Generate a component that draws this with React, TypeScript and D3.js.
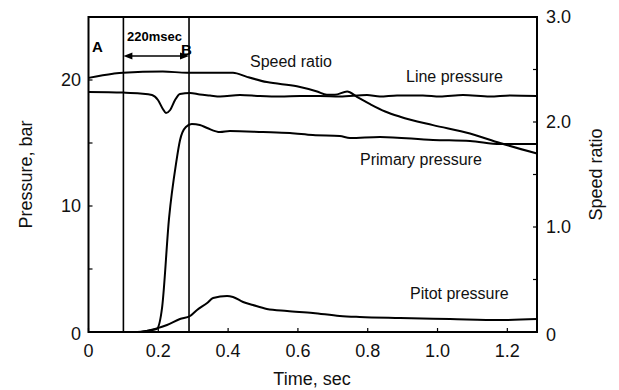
import React from "react";
import * as d3 from "d3";

// ---- data (time in sec) ----
const speedT = [0, 0.07, 0.099, 0.213, 0.282, 0.414, 0.454, 0.511, 0.597, 0.655, 0.683, 0.706, 0.741, 0.769, 0.807, 0.85, 0.893, 0.987, 1.093, 1.179, 1.285];
const speedV = [2.42, 2.46, 2.47, 2.48, 2.47, 2.47, 2.43, 2.38, 2.34, 2.29, 2.26, 2.26, 2.29, 2.24, 2.17, 2.1, 2.05, 1.97, 1.89, 1.8, 1.7];

const lineT = [0, 0.099, 0.148, 0.182, 0.199, 0.213, 0.222, 0.234, 0.248, 0.262, 0.291, 0.319, 0.348, 0.377, 0.434, 0.491, 0.549, 0.606, 0.663, 0.72, 0.798, 0.835, 0.884, 0.958, 1.007, 1.073, 1.15, 1.208, 1.285];
const lineV = [19.05, 19.0, 18.93, 18.81, 18.41, 17.7, 17.38, 17.62, 18.41, 18.89, 18.97, 18.85, 18.77, 18.69, 18.81, 18.73, 18.69, 18.73, 18.73, 18.69, 18.81, 18.69, 18.77, 18.77, 18.69, 18.81, 18.69, 18.77, 18.73];

const primT = [0, 0.14, 0.17, 0.19, 0.196, 0.211, 0.231, 0.251, 0.262, 0.279, 0.296, 0.319, 0.34, 0.377, 0.405, 0.5, 0.577, 0.643, 0.72, 0.749, 0.835, 0.987, 1.093, 1.179, 1.285];
const primV = [0, 0, 0.1, 0.2, 0.25, 1.98, 9.1, 13.4, 15.2, 16.27, 16.5, 16.43, 16.19, 15.87, 15.95, 15.87, 15.79, 15.63, 15.56, 15.4, 15.48, 15.24, 15.16, 14.92, 14.92];

const pitotT = [0, 0.139, 0.196, 0.225, 0.262, 0.291, 0.311, 0.34, 0.357, 0.397, 0.414, 0.443, 0.471, 0.511, 0.569, 0.643, 0.72, 0.777, 0.893, 1.036, 1.179, 1.285];
const pitotV = [0, 0, 0.29, 0.56, 1.03, 1.27, 1.75, 2.3, 2.7, 2.86, 2.78, 2.38, 2.14, 1.83, 1.67, 1.51, 1.27, 1.19, 1.11, 1.03, 0.95, 1.03];

const xTicks = [0, 0.2, 0.4, 0.6, 0.8, 1.0, 1.2];
const xTickLabels = ["0", "0.2", "0.4", "0.6", "0.8", "1.0", "1.2"];
const leftTicks = [0, 5, 10, 15, 20];
const leftLabels = ["0", "", "10", "", "20"];
const rightTicks = [0, 0.5, 1, 1.5, 2, 2.5, 3];
const rightLabels = ["0", "", "1.0", "", "2.0", "", "3.0"];

const markerA = 0.1;
const markerB = 0.288;

const W = 619, H = 390;
const L = 88.5, R = 537, T = 17, B = 332;
const FONT = "'Liberation Sans', Arial, sans-serif";

export default function App() {
  const x = d3.scaleLinear().domain([0, 1.285]).range([L, R]);
  const yL = d3.scaleLinear().domain([0, 25]).range([B, T]);
  const yR = d3.scaleLinear().domain([0, 3]).range([B, T]);

  const mk = (ts: number[], vs: number[], y: d3.ScaleLinear<number, number>) =>
    d3.line<number>().x((_, i) => x(ts[i])).y((v) => y(v)).curve(d3.curveMonotoneX)(vs) || "";

  const xA = x(markerA), xB = x(markerB);
  const arrowY = 56;

  return (
    <svg width={W} height={H} style={{ position: "absolute", left: 0, top: 0, background: "#fff" }} fontFamily={FONT}>
      <rect x={0} y={0} width={W} height={H} fill="#fff" />
      {/* frame */}
      <rect x={L} y={T} width={R - L} height={B - T} fill="none" stroke="#000" strokeWidth={2} />
      {/* ticks */}
      {xTicks.map((t, i) => (
        <g key={"xt" + i}>
          <line x1={x(t)} x2={x(t)} y1={B} y2={B - 4} stroke="#000" strokeWidth={1.2} />
          <text x={x(t)} y={357} fontSize={18} textAnchor="middle" fill="#111">{xTickLabels[i]}</text>
        </g>
      ))}
      {leftTicks.map((t, i) => (
        <g key={"lt" + i}>
          <line x1={L} x2={L + 4} y1={yL(t)} y2={yL(t)} stroke="#000" strokeWidth={1.2} />
          {leftLabels[i] && (
            <text x={81} y={yL(t) + (t === 0 ? 2 : 0)} fontSize={18} textAnchor="end" dominantBaseline="central" fill="#111">{leftLabels[i]}</text>
          )}
        </g>
      ))}
      {rightTicks.map((t, i) => (
        <g key={"rt" + i}>
          <line x1={R} x2={R - 4} y1={yR(t)} y2={yR(t)} stroke="#000" strokeWidth={1.2} />
          {rightLabels[i] && (
            <text x={546} y={yR(t) + (t === 0 ? 3 : 0)} fontSize={18} textAnchor="start" dominantBaseline="central" fill="#111">{rightLabels[i]}</text>
          )}
        </g>
      ))}
      {/* axis titles */}
      <text x={312} y={385} fontSize={18} textAnchor="middle" fill="#111">Time, sec</text>
      <text transform={`translate(32,${(T + B) / 2}) rotate(-90)`} fontSize={18} textAnchor="middle" fill="#111">Pressure, bar</text>
      <text transform={`translate(596,${(T + B) / 2}) rotate(-90)`} fontSize={18} textAnchor="middle" dominantBaseline="central" fill="#111">Speed ratio</text>

      {/* marker lines */}
      <line x1={xA} x2={xA} y1={T} y2={B} stroke="#000" strokeWidth={1.6} />
      <line x1={xB} x2={xB} y1={T} y2={B} stroke="#000" strokeWidth={1.6} />

      {/* curves */}
      <g fill="none" stroke="#000" strokeWidth={2} strokeLinejoin="round">
        <path d={mk(speedT, speedV, yR)} />
        <path d={mk(lineT, lineV, yL)} />
        <path d={mk(primT, primV, yL)} />
        <path d={mk(pitotT, pitotV, yL)} />
      </g>

      {/* annotations */}
      <text x={92} y={52} fontSize={15} fontWeight="bold" fill="#000">A</text>
      <text x={181} y={54.5} fontSize={15} fontWeight="bold" fill="#000">B</text>
      <text x={127} y={41} fontSize={13} fontWeight="bold" fill="#000">220msec</text>
      <line x1={xA + 7} x2={xB - 7} y1={arrowY} y2={arrowY} stroke="#000" strokeWidth={1.6} />
      <path d={`M${xA},${arrowY} L${xA + 9},${arrowY - 3.5} L${xA + 9},${arrowY + 3.5} Z`} fill="#000" />
      <path d={`M${xB},${arrowY} L${xB - 9},${arrowY - 3.5} L${xB - 9},${arrowY + 3.5} Z`} fill="#000" />

      <text x={250} y={67} fontSize={16} fill="#111">Speed ratio</text>
      <text x={406} y={82} fontSize={16} fill="#111">Line pressure</text>
      <text x={360} y={165} fontSize={16} fill="#111">Primary pressure</text>
      <text x={410} y={299} fontSize={16} fill="#111">Pitot pressure</text>
    </svg>
  );
}
